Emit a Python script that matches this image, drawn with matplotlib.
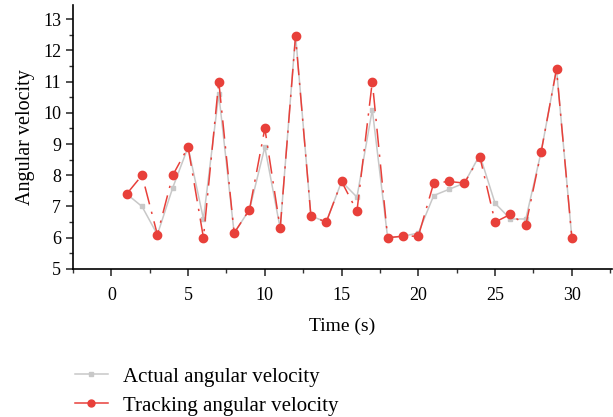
import matplotlib.pyplot as plt
from matplotlib.lines import Line2D
from matplotlib.ticker import MultipleLocator

plt.rcParams['font.family'] = ['Liberation Serif', 'DejaVu Serif']

time = list(range(1, 31))
actual = [7.4, 7.0, 6.1, 7.6, 8.9, 6.6, 10.6, 6.15, 6.9, 8.9,
          6.3, 12.5, 6.7, 6.5, 7.8, 7.3, 10.1, 6.0, 6.05, 6.15,
          7.35, 7.55, 7.75, 8.65, 7.1, 6.6, 6.6, 8.75, 11.4, 6.0]
tracking = [7.4, 8.0, 6.1, 8.0, 8.9, 6.0, 11.0, 6.15, 6.9, 9.5,
            6.3, 12.45, 6.7, 6.5, 7.8, 6.85, 11.0, 6.0, 6.05, 6.05,
            7.75, 7.8, 7.75, 8.6, 6.5, 6.75, 6.4, 8.75, 11.4, 6.0]
labels = ['Actual angular velocity', 'Tracking angular velocity']

gray = '#c8c8c8'
red = '#e8403a'

fig = plt.figure(figsize=(6.13, 4.17), dpi=100)
ax = fig.add_axes([0.119, 0.355, 0.879, 0.633])

ax.plot(time, actual, color=gray, lw=1.1, marker='s', ms=3.5)
ax.plot(time, tracking, color=red, lw=1.1, ls=(0, (12, 5, 1.5, 5)),
        marker='o', ms=6)

ax.set_xlim(-2.5, 32.6)
ax.set_ylim(5, 13.45)
ax.xaxis.set_major_locator(MultipleLocator(5))
ax.xaxis.set_minor_locator(MultipleLocator(2.5))
ax.yaxis.set_minor_locator(MultipleLocator(0.5))
ax.set_yticks(range(5, 14))
ax.spines['top'].set_visible(False)
ax.spines['right'].set_visible(False)
ax.spines['left'].set_linewidth(1.2)
ax.spines['bottom'].set_linewidth(1.2)
ax.tick_params(which='major', length=5, width=1.2, labelsize=13, color='#333333')
ax.tick_params(axis='x', which='major', pad=8)
ax.tick_params(which='minor', length=3, width=1.0, color='#333333')

ax.set_xlabel('Time (s)', fontsize=14, labelpad=10)
ax.set_ylabel('Angular velocity', fontsize=14.5, labelpad=6)

# legend handles drawn solid like the original
handles = [Line2D([], [], color=gray, lw=1.1, marker='s', ms=3.5),
           Line2D([], [], color=red, lw=1.1, marker='o', ms=5)]
fig.legend(handles, labels, loc='upper left', bbox_to_anchor=(0.122, 0.12),
           frameon=False, fontsize=15, handlelength=1.6, handletextpad=0.7,
           labelspacing=0.45, borderpad=0, borderaxespad=0)

fig.savefig('out.png', dpi=100)
